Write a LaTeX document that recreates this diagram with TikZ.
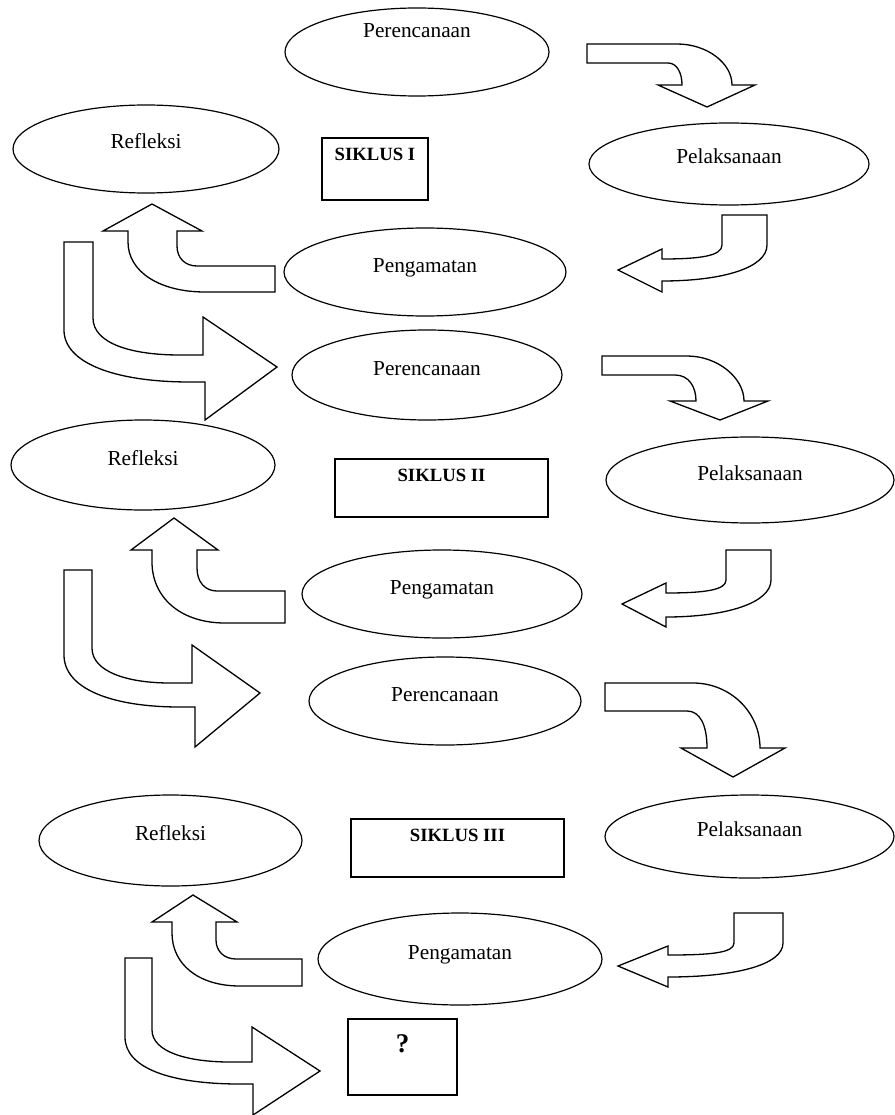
\documentclass[tikz,border=0pt]{standalone}
\usepackage{fontspec}
\setmainfont{Liberation Serif}
\usetikzlibrary{shapes.geometric}
\tikzset{
  ell/.style={draw, line width=1.2pt, ellipse, inner sep=0pt,
    font=\fontsize{21.3}{25}\selectfont, text height=13pt, text depth=13pt},
  bx/.style={draw, line width=1.6pt, rectangle, inner sep=0pt},
  btxt/.style={font=\bfseries\fontsize{18.7}{22}\selectfont, inner sep=0pt},
  blk/.style={draw, line width=1.3pt, fill=white, line join=miter},
}
\begin{document}
\begin{tikzpicture}[x=1pt,y=-1pt]
\useasboundingbox (0,0) rectangle (894,1115);
% ---------- Cycle I ----------
\node[ell, minimum width=264pt, minimum height=88pt, text depth=41pt] (per1) at (417,52) {Perencanaan};
\node[ell, minimum width=266pt, minimum height=88pt] (ref1) at (146,149) {Refleksi};
\node[ell, minimum width=280pt, minimum height=82pt] (pel1) at (729,164) {Pelaksanaan};
\node[ell, minimum width=282pt, minimum height=88pt] (pen1) at (425,272) {Pengamatan};
\node[bx, minimum width=106pt, minimum height=62pt] (s1) at (375,169) {};
\node[btxt] (s1t) at ([yshift=-17pt]s1.north) {SIKLUS I};
% ---------- Cycle II ----------
\node[ell, minimum width=270pt, minimum height=90pt] (per2) at (427,375) {Perencanaan};
\node[ell, minimum width=264pt, minimum height=90pt] (ref2) at (143,465) {Refleksi};
\node[ell, minimum width=288pt, minimum height=86pt] (pel2) at (750,480) {Pelaksanaan};
\node[ell, minimum width=280pt, minimum height=88pt] (pen2) at (442,594) {Pengamatan};
\node[bx, minimum width=213pt, minimum height=58pt] (s2) at (441.5,488) {};
\node[btxt] (s2t) at ([yshift=-17pt]s2.north) {SIKLUS II};
% ---------- Cycle III ----------
\node[ell, minimum width=272pt, minimum height=88pt] (per3) at (445,701) {Perencanaan};
\node[ell, minimum width=263pt, minimum height=91pt] (ref3) at (170.5,840.5) {Refleksi};
\node[ell, minimum width=289pt, minimum height=83pt] (pel3) at (749.5,836.5) {Pelaksanaan};
\node[ell, minimum width=284pt, minimum height=92pt] (pen3) at (460,959) {Pengamatan};
\node[bx, minimum width=213pt, minimum height=58pt] (s3) at (457.5,848) {};
\node[btxt] (s3t) at ([yshift=-17pt]s3.north) {SIKLUS III};
\node[bx, minimum width=109pt, minimum height=76pt] (q) at (402.5,1057) {};
\node[btxt, font=\bfseries\fontsize{27}{30}\selectfont] (qt) at ([yshift=-26pt]q.north) {?};
% ---------- block arrows, cycle I ----------
\draw[blk] (587,44) -- (677,44) .. controls (707,44) and (732,63) .. (732,85) -- (755,85) -- (707,107) -- (658,85) -- (682,85) .. controls (682,73) and (677,63) .. (668,63) -- (587,63) -- cycle;
\draw[blk] (722,215) -- (767,215) -- (767,245) .. controls (767,268) and (722,281) .. (662,281) -- (662,292) -- (618,270) -- (662,249) -- (662,259) .. controls (700,259) and (722,256) .. (722,245) -- cycle;
\draw[blk] (275,266) -- (197,266) .. controls (185,266) and (177,258) .. (177,246) -- (177,231) -- (202,231) -- (152,204) -- (103,231) -- (128,231) -- (128,242) .. controls (128,272) and (160,292) .. (205,292) -- (275,292) -- cycle;
\draw[blk] (64,242) -- (93,242) -- (93,318) .. controls (93,343) and (130,355) .. (180,355) -- (203,355) -- (203,317) -- (277,367) -- (205,420) -- (205,382) -- (190,382) .. controls (115,382) and (64,363) .. (64,330) -- cycle;
% ---------- block arrows, cycle II ----------
\draw[blk] (602,356) -- (687,356) .. controls (718,356) and (744,378) .. (744,401) -- (768,401) -- (720,420) -- (670,401) -- (696,401) .. controls (696,387) and (689,375) .. (675,375) -- (602,375) -- cycle;
\draw[blk] (726,550) -- (771,550) -- (771,580) .. controls (771,603) and (726,617) .. (666,617) -- (666,627) -- (622,604) -- (666,583) -- (666,593) .. controls (705,593) and (726,590) .. (726,580) -- cycle;
\draw[blk] (285,591) -- (217,591) .. controls (205,591) and (197,582) .. (197,568) -- (197,550) -- (218,550) -- (174,518) -- (131,550) -- (152,550) -- (152,562) .. controls (152,597) and (180,623) .. (225,623) -- (285,623) -- cycle;
\draw[blk] (64,570) -- (92,570) -- (92,648) .. controls (92,672) and (128,683) .. (170,683) -- (192,683) -- (192,645) -- (260,693) -- (195,747) -- (195,707) -- (180,707) .. controls (110,707) and (64,688) .. (64,655) -- cycle;
% ---------- block arrows, cycle III ----------
\draw[blk] (605,683) -- (693,683) .. controls (730,683) and (760,712) .. (760,748) -- (785,748) -- (733,777) -- (681,748) -- (707,748) .. controls (707,725) and (700,711) .. (687,711) -- (605,711) -- cycle;
\draw[blk] (734,913) -- (783,913) -- (783,943) .. controls (783,965) and (735,977) .. (668,977) -- (668,987) -- (618,966) -- (668,946) -- (668,955) .. controls (710,955) and (734,953) .. (734,943) -- cycle;
\draw[blk] (302,959) -- (236,959) .. controls (224,959) and (216,951) .. (216,940) -- (216,922) -- (237,922) -- (193,895) -- (152,922) -- (172,922) -- (172,933) .. controls (172,964) and (198,986) .. (240,986) -- (302,986) -- cycle;
\draw[blk] (125,958) -- (152,958) -- (152,1030) .. controls (152,1052) and (188,1062) .. (230,1062) -- (252,1062) -- (252,1027) -- (320,1071) -- (253,1115) -- (253,1084) -- (240,1084) .. controls (170,1084) and (125,1068) .. (125,1037) -- cycle;
\end{tikzpicture}
\end{document}
